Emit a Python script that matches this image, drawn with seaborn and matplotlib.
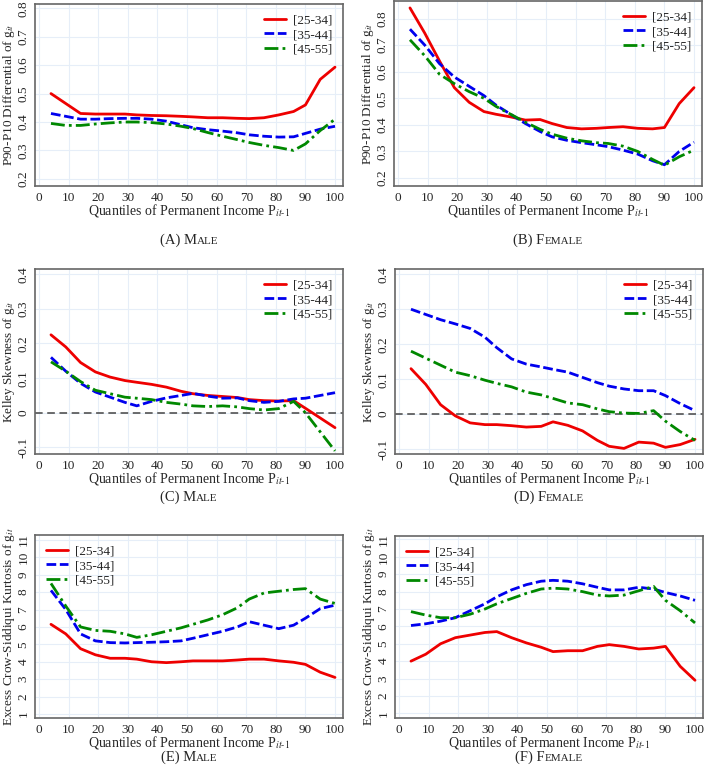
import numpy as np
import matplotlib
matplotlib.use('Agg')
import matplotlib.pyplot as plt
from matplotlib.ticker import FuncFormatter
import seaborn as sns

sns.set_style('white')
plt.rcParams['font.family'] = ['Liberation Serif', 'DejaVu Serif']
plt.rcParams['mathtext.fontset'] = 'stix'

# quantile grid (x positions of the points)
quantiles = [4, 9, 14, 19, 24, 29, 33, 38, 43, 48, 52, 57, 62, 67, 71, 76, 81, 86, 90, 95, 100]
groups = ['[25-34]', '[35-44]', '[45-55]']

# P90-P10 differential
p9010_male_25 = [0.50, 0.465, 0.43, 0.428, 0.428, 0.428, 0.425, 0.423, 0.422, 0.42, 0.418, 0.415, 0.415, 0.413, 0.412, 0.415, 0.425, 0.437, 0.46, 0.55, 0.593]
p9010_male_35 = [0.43, 0.42, 0.41, 0.41, 0.412, 0.413, 0.413, 0.41, 0.403, 0.39, 0.38, 0.373, 0.368, 0.362, 0.355, 0.35, 0.347, 0.348, 0.36, 0.375, 0.385]
p9010_male_45 = [0.395, 0.388, 0.388, 0.393, 0.397, 0.40, 0.40, 0.398, 0.393, 0.385, 0.377, 0.363, 0.35, 0.338, 0.328, 0.318, 0.31, 0.30, 0.323, 0.37, 0.41]
p9010_fem_25 = [0.84, 0.745, 0.64, 0.54, 0.485, 0.45, 0.44, 0.43, 0.418, 0.42, 0.405, 0.39, 0.385, 0.387, 0.39, 0.393, 0.387, 0.385, 0.39, 0.48, 0.54]
p9010_fem_35 = [0.76, 0.70, 0.63, 0.58, 0.545, 0.51, 0.475, 0.44, 0.405, 0.375, 0.355, 0.342, 0.333, 0.325, 0.318, 0.305, 0.29, 0.265, 0.25, 0.30, 0.335]
p9010_fem_45 = [0.72, 0.66, 0.59, 0.555, 0.525, 0.50, 0.47, 0.44, 0.41, 0.383, 0.365, 0.35, 0.34, 0.333, 0.33, 0.32, 0.30, 0.27, 0.248, 0.28, 0.305]

# Kelley skewness
skew_male_25 = [0.225, 0.19, 0.145, 0.118, 0.103, 0.093, 0.088, 0.082, 0.074, 0.062, 0.055, 0.05, 0.047, 0.044, 0.038, 0.035, 0.034, 0.035, 0.013, -0.015, -0.043]
skew_male_35 = [0.16, 0.12, 0.085, 0.06, 0.045, 0.03, 0.02, 0.033, 0.043, 0.05, 0.056, 0.048, 0.042, 0.043, 0.035, 0.03, 0.033, 0.04, 0.042, 0.05, 0.058]
skew_male_45 = [0.147, 0.12, 0.09, 0.065, 0.055, 0.045, 0.042, 0.038, 0.03, 0.025, 0.02, 0.018, 0.02, 0.017, 0.012, 0.008, 0.012, 0.033, 0.0, -0.055, -0.11]
skew_fem_25 = [0.13, 0.085, 0.027, -0.005, -0.025, -0.03, -0.03, -0.033, -0.037, -0.035, -0.022, -0.032, -0.048, -0.075, -0.092, -0.098, -0.08, -0.083, -0.095, -0.087, -0.072]
skew_fem_35 = [0.30, 0.285, 0.27, 0.258, 0.245, 0.22, 0.19, 0.158, 0.143, 0.135, 0.128, 0.12, 0.105, 0.09, 0.08, 0.072, 0.067, 0.067, 0.053, 0.03, 0.01]
skew_fem_45 = [0.18, 0.16, 0.14, 0.12, 0.11, 0.097, 0.088, 0.078, 0.063, 0.055, 0.045, 0.032, 0.027, 0.015, 0.007, 0.003, 0.002, 0.01, -0.02, -0.05, -0.075]

# Crow-Siddiqui kurtosis
kurt_male_25 = [6.15, 5.6, 4.75, 4.4, 4.2, 4.2, 4.15, 4.0, 3.95, 4.0, 4.05, 4.05, 4.05, 4.1, 4.15, 4.15, 4.05, 3.97, 3.85, 3.4, 3.1]
kurt_male_35 = [8.1, 7.0, 5.6, 5.2, 5.1, 5.08, 5.1, 5.12, 5.15, 5.2, 5.35, 5.55, 5.75, 6.0, 6.3, 6.1, 5.9, 6.1, 6.5, 7.05, 7.25]
kurt_male_45 = [8.5, 7.2, 6.0, 5.8, 5.75, 5.6, 5.4, 5.55, 5.75, 5.95, 6.15, 6.4, 6.7, 7.1, 7.6, 7.95, 8.05, 8.15, 8.2, 7.6, 7.35]
kurt_fem_25 = [4.0, 4.4, 5.0, 5.35, 5.5, 5.65, 5.7, 5.35, 5.05, 4.8, 4.55, 4.6, 4.6, 4.85, 4.95, 4.85, 4.7, 4.75, 4.85, 3.7, 2.9]
kurt_fem_35 = [6.05, 6.15, 6.3, 6.5, 6.9, 7.3, 7.7, 8.1, 8.4, 8.6, 8.65, 8.6, 8.45, 8.25, 8.1, 8.1, 8.25, 8.15, 7.95, 7.75, 7.5]
kurt_fem_45 = [6.85, 6.65, 6.5, 6.5, 6.7, 7.0, 7.3, 7.6, 7.9, 8.15, 8.2, 8.15, 8.0, 7.8, 7.75, 7.8, 8.05, 8.3, 7.5, 6.9, 6.2]

colors = ['#ee0000', '#0000ee', '#008800']
styles = ['-', (0, (3.5, 1.3)), (0, (5, 1.5, 1, 1.5))]

W, H = 709, 777
fig = plt.figure(figsize=(W / 100, H / 100), dpi=100)


def px_axes(left, top, right, bottom):
    return fig.add_axes([left / W, 1 - bottom / H, (right - left) / W, (bottom - top) / H])


ylab_p = r'P90-P10 Differential of g$_{it}$'
ylab_s = r'Kelley Skewness of g$_{it}$'
ylab_k = r'Excess Crow-Siddiqui Kurtosis of g$_{it}$'
xlab = r'Quantiles of Permanent Income P$_{it\text{-}1}$'

panels = [
    ((35, 4, 343, 186), [p9010_male_25, p9010_male_35, p9010_male_45], (0.175, 0.815), np.arange(0.2, 0.81, 0.1), ylab_p, 'upper right', False, ('(A) M', 'ALE'), 244),
    ((394, 1, 702, 186), [p9010_fem_25, p9010_fem_35, p9010_fem_45], (0.17, 0.866), np.arange(0.2, 0.81, 0.1), ylab_p, 'upper right', False, ('(B) F', 'EMALE'), 244),
    ((35, 269, 343, 454), [skew_male_25, skew_male_35, skew_male_45], (-0.119, 0.415), np.arange(-0.1, 0.41, 0.1), ylab_s, 'upper right', True, ('(C) M', 'ALE'), 501),
    ((395, 269, 703, 454), [skew_fem_25, skew_fem_35, skew_fem_45], (-0.114, 0.415), np.arange(-0.1, 0.41, 0.1), ylab_s, 'upper right', True, ('(D) F', 'EMALE'), 501),
    ((35, 535, 343, 718), [kurt_male_25, kurt_male_35, kurt_male_45], (0.77, 11.28), np.arange(1, 12, 1), ylab_k, 'upper left', False, ('(E) M', 'ALE'), 761),
    ((395, 536, 703, 718), [kurt_fem_25, kurt_fem_35, kurt_fem_45], (0.73, 11.2), np.arange(1, 12, 1), ylab_k, 'upper left', False, ('(F) F', 'EMALE'), 761),
]

captions = []
for box, series, ylim, yticks, ylab, loc, zero, cap, cap_y in panels:
    ax = px_axes(*box)
    if zero:
        ax.axhline(0, color='#444444', linestyle=(0, (5, 3)), linewidth=1.1, zorder=1)
    for vals, c, ls, g in zip(series, colors, styles, groups):
        sns.lineplot(x=quantiles, y=vals, color=c, linestyle=ls, linewidth=2, label=g, ax=ax)
    ax.set_xlim(-1.4, 102.7)
    ax.set_ylim(*ylim)
    ax.set_xticks(range(0, 101, 10))
    ax.set_yticks(yticks)
    ax.yaxis.set_major_formatter(FuncFormatter(lambda v, p: f'{round(v, 2):g}'))
    ax.grid(True, color='#e6eef8', linewidth=0.8)
    for lab in ax.get_yticklabels():
        lab.set_rotation(90)
        lab.set_va('center')
    ax.tick_params(axis='both', direction='out', length=3, width=1, color='#555555',
                   labelsize=9.5, pad=1)
    for s in ax.spines.values():
        s.set_color('#666666')
        s.set_linewidth(1.2)
    ax.set_xlabel(xlab, fontsize=10, labelpad=-1)
    ax.set_ylabel(ylab, fontsize=9.5, labelpad=0)
    ax.legend(loc=loc, frameon=False, fontsize=9.5, handlelength=1.7, borderaxespad=0.4,
              labelspacing=0.15, handletextpad=0.5)
    cx = (box[0] + box[2]) / 2
    captions.append((cx, cap_y, cap))

# small-caps style captions
fig.canvas.draw()
r = fig.canvas.get_renderer()
for cx, cap_y, (big, small) in captions:
    y = 1 - cap_y / H
    t1 = fig.text(0, y, big, fontsize=10.5, va='baseline')
    t2 = fig.text(0, y, small, fontsize=8, va='baseline')
    w1 = t1.get_window_extent(r).width
    w2 = t2.get_window_extent(r).width
    x0 = cx - (w1 + w2) / 2
    t1.set_x(x0 / W)
    t2.set_x((x0 + w1) / W)

fig.savefig('out.png', dpi=100)
